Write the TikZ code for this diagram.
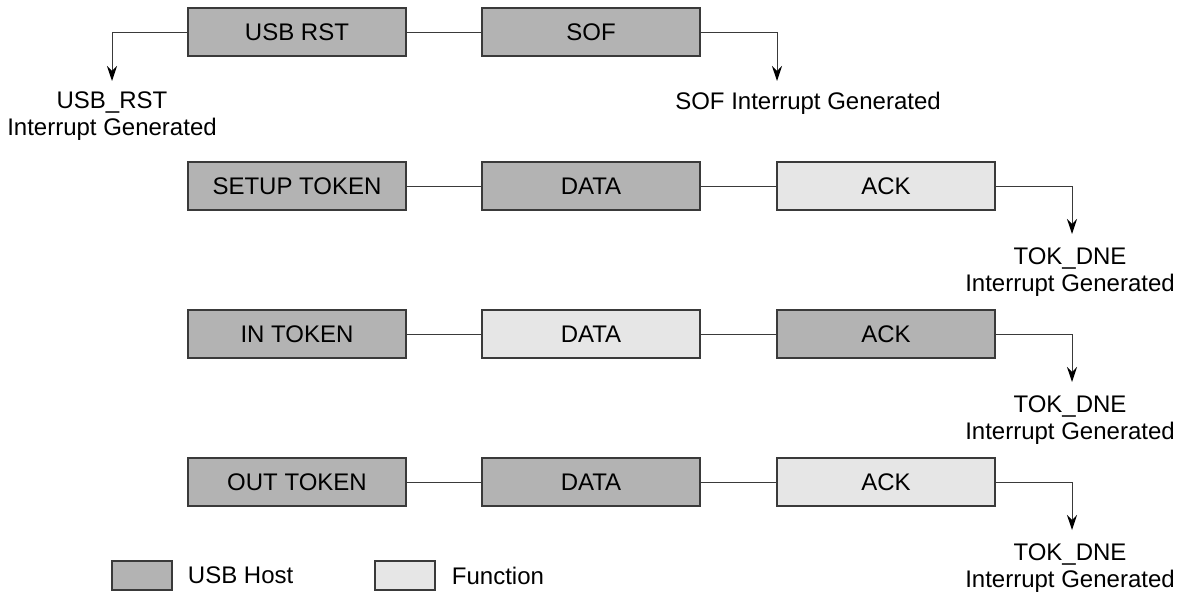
\documentclass[tikz,border=0pt]{standalone}
\usepackage{fontspec}
\setmainfont{Liberation Sans}
\usetikzlibrary{arrows.meta,positioning}
\definecolor{hostgray}{HTML}{B3B3B3}
\definecolor{funcgray}{HTML}{E6E6E6}
\definecolor{edgegray}{HTML}{3A3A3A}

\begin{document}
\begin{tikzpicture}[x=1pt, y=-1pt,
    txt/.style={font=\fontsize{24}{27}\selectfont},
    pkt/.style={txt, draw=edgegray, line width=1.5pt, minimum width=218pt, minimum height=48pt, inner sep=0pt},
    host/.style={pkt, fill=hostgray},
    func/.style={pkt, fill=funcgray},
    link/.style={draw=edgegray, line width=1pt},
    irq/.style={link, -{Stealth[length=15pt,width=10pt,inset=5pt,black]}},
    note/.style={txt, align=center, inner sep=0pt, anchor=north},
    key/.style={pkt, minimum width=60pt, minimum height=29pt}]
  \useasboundingbox (0,0) rectangle (1178,597);

  % reset and start of frame
  \node[host] (rst) at (297,32) {USB RST};
  \node[host] (sof) at (591,32) {SOF};
  \draw[link] (rst) -- (sof);
  \coordinate (rsttip) at (112,81);
  \coordinate (softip) at (777,81);
  \draw[irq] (rst.west) -| (rsttip);
  \draw[irq] (sof.east) -| (softip);
  \node[note] (rstnote) at (112,92) {USB\_RST\\Interrupt Generated};
  \node[note] (sofnote) at (808,92) {SOF Interrupt Generated};

  % setup transaction
  \node[host] (setup) at (297,186) {SETUP TOKEN};
  \node[host] (setupdata) at (591,186) {DATA};
  \node[func] (setupack) at (886,186) {ACK};
  \draw[link] (setup) -- (setupdata);
  \draw[link] (setupdata) -- (setupack);
  \coordinate (setuptip) at (1072,234);
  \draw[irq] (setupack.east) -| (setuptip);
  \node[note] (setupnote) at (1070,248) {TOK\_DNE\\Interrupt Generated};

  % in transaction
  \node[host] (in) at (297,334) {IN TOKEN};
  \node[func] (indata) at (591,334) {DATA};
  \node[host] (inack) at (886,334) {ACK};
  \draw[link] (in) -- (indata);
  \draw[link] (indata) -- (inack);
  \coordinate (intip) at (1072,382);
  \draw[irq] (inack.east) -| (intip);
  \node[note] (innote) at (1070,396) {TOK\_DNE\\Interrupt Generated};

  % out transaction
  \node[host] (out) at (297,482) {OUT TOKEN};
  \node[host] (outdata) at (591,482) {DATA};
  \node[func] (outack) at (886,482) {ACK};
  \draw[link] (out) -- (outdata);
  \draw[link] (outdata) -- (outack);
  \coordinate (outtip) at (1072,530);
  \draw[irq] (outack.east) -| (outtip);
  \node[note] (outnote) at (1070,544) {TOK\_DNE\\Interrupt Generated};

  % legend
  \node[key, fill=hostgray] (keyhost) at (142,575.5) {};
  \node[txt, inner sep=0pt, right=15pt of keyhost] (keyhosttxt) {USB Host};
  \node[key, fill=funcgray] (keyfunc) at (405,575.5) {};
  \node[txt, inner sep=0pt, right=16pt of keyfunc] (keyfunctxt) {Function};
\end{tikzpicture}
\end{document}
